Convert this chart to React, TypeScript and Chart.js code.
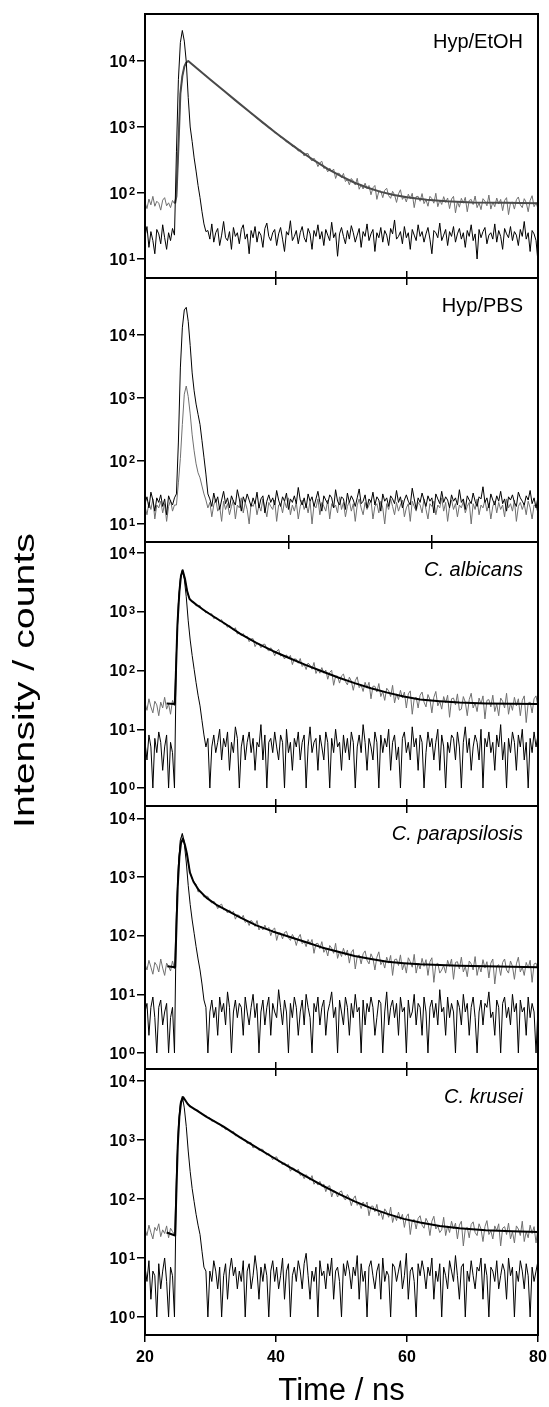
import React, { useEffect, useRef } from "react";
import { Chart, registerables } from "chart.js";

Chart.register(...registerables);

const FONT = "'Liberation Sans', Arial, Helvetica, sans-serif";
Chart.defaults.font.family = FONT;

// ---------- sampling grid (ns) ----------
const TIME_START = 20;
const TIME_STEP = 0.3;
const N_POINTS = 201;
const TIME = Array.from({ length: N_POINTS }, (_, i) => Math.round((TIME_START + TIME_STEP * i) * 100) / 100);

// ---------- tick values ----------
const X_TICKS = [20, 40, 60, 80];
const X_TICKS_INNER = [40, 60];
const Y_DECADES_HIGH = [10, 100, 1000, 10000];
const Y_DECADES_LOW = [1, 10, 100, 1000, 10000];

// ---------- Panel 1: Hyp/EtOH ----------
const ETOH_DATA = [
  72, 58, 81, 66, 89, 63, 75, 70, 55, 78, 85, 64, 71, 60, 77, 69,
  90, 520, 3200, 5900, 8200, 9500, 10000,
  9480, 8870, 8450, 7960, 7440, 7110, 6690, 6250, 5990, 5650, 5270, 5040, 4760, 4430, 4250, 3990, 3740, 3590, 3380, 3140,
  3020, 2860, 2650, 2550, 2410, 2230, 2160, 2030, 1890, 1830, 1720, 1590, 1550, 1460, 1340, 1320, 1235, 1135, 1120, 1050,
  960, 955, 893, 815, 818, 762, 695, 699, 652, 592, 601, 560, 506, 519, 481, 432, 449,
  421, 363, 396, 395, 332, 305, 337, 302, 251, 287, 302, 236, 243, 209, 239, 210, 231, 166, 200, 197,
  170, 198, 149, 160, 133, 166, 152, 132, 167, 114, 133, 115, 141, 116, 130, 94, 120, 130, 80, 106,
  107, 85, 110, 118, 91, 83, 106, 94, 72, 97, 112, 80, 88, 73, 96, 82, 99, 60, 88, 89,
  75, 98, 69, 79, 63, 89, 82, 70, 99, 62, 78, 67, 88, 72, 84, 58, 81, 89, 50, 74,
  61, 83, 70, 86, 52, 77, 80, 67, 90, 60, 71, 56, 82, 75, 64, 93, 57, 73, 62, 84,
  68, 80, 54, 77, 85, 47, 71, 73, 57, 79, 87, 66, 60, 82, 72, 52, 77, 91, 62, 71, 58,
];
const ETOH_IRF = [
  22, 31, 15, 26, 19, 12, 28, 24, 17, 33, 21, 14, 25, 19, 29, 23,
  420, 5200, 19000, 29000, 20000, 9800, 2800, 1000, 600, 340, 215, 130, 85, 52, 34, 26,
  27, 20, 34, 18, 25, 29, 16, 23, 37, 21,
  19, 26, 14, 30, 22, 25, 17, 28, 33, 20,
  24, 12, 27, 21, 31, 18, 26, 23, 15, 29,
  35, 22, 19, 25, 28, 16, 24, 30, 20, 13,
  26, 23, 38, 19, 22, 27, 17, 25, 31, 21,
  18, 29, 24, 14, 27, 22, 33, 20, 26, 16,
  28, 23, 19, 36, 21, 25, 11, 24, 30, 22,
  17, 27, 20, 32, 25, 18, 23, 29, 15, 26,
  22, 34, 19, 24, 28, 13, 25, 21, 30, 18,
  27, 23, 16, 29, 24, 39, 20, 22, 26, 17,
  31, 21, 25, 14, 28, 23, 19, 33, 22, 26,
  18, 24, 30, 20, 12, 27, 25, 21, 35, 19,
  23, 28, 16, 26, 22, 31, 18, 24, 29, 20,
  25, 15, 27, 22, 33, 19, 24, 10, 28, 21,
  26, 30, 17, 23, 25, 20, 34, 18, 27, 22,
  14, 29, 24, 21, 31, 19, 26, 23, 16, 28,
  22, 37, 20, 25, 13, 27, 24, 19, 9,
];
const ETOH_FIT_T = [24.6, 24.8, 25.1, 25.4, 25.7, 26.0, 26.3, 26.6, 28, 30, 32, 34, 36, 38, 40, 42, 44, 46, 48, 50, 52, 54, 56, 58, 60, 63, 66, 70, 75, 80];
const ETOH_FIT = [70, 90, 500, 3200, 5900, 8200, 9500, 10000, 7645, 5215, 3565, 2443, 1682, 1164, 813, 575, 413, 303, 228, 178, 143, 120, 104, 93, 86, 79, 75, 72, 71, 70];

// ---------- Panel 2: Hyp/PBS ----------
const PBS_DATA = [
  19, 14, 22, 17, 25, 12, 20, 18, 23, 15, 21, 11, 19, 24, 16, 20,
  20, 45, 110, 380, 1150, 1550, 1050, 560, 260, 145, 90, 65, 54, 40, 30, 24,
  18, 22, 13, 20, 25, 16, 19, 11, 23, 17,
  21, 14, 19, 24, 12, 20, 18, 26, 15, 22,
  17, 10, 21, 19, 23, 14, 20, 16, 25, 18,
  13, 22, 19, 17, 24, 11, 20, 21, 15, 23,
  18, 26, 14, 20, 16, 22, 12, 19, 24, 17,
  21, 15, 23, 10, 20, 18, 25, 14, 22, 19,
  16, 24, 12, 21, 18, 20, 15, 27, 17, 22,
  13, 19, 23, 16, 21, 11, 20, 25, 18, 14,
  22, 17, 20, 24, 12, 19, 21, 15, 23, 18,
  10, 21, 17, 25, 19, 14, 22, 16, 20, 24,
  13, 18, 21, 11, 23, 19, 16, 22, 20, 15,
  25, 17, 12, 21, 19, 23, 14, 20, 18, 26,
  16, 22, 11, 19, 24, 17, 21, 13, 20, 18,
  23, 15, 19, 22, 10, 21, 17, 25, 14, 20,
  18, 24, 16, 21, 12, 19, 23, 15, 22, 17,
  20, 13, 25, 18, 21, 16, 24, 11, 19, 22,
  17, 21, 14, 23, 18, 12, 20, 19, 15,
];
const PBS_IRF = [
  21, 27, 18, 32, 24, 16, 26, 22, 29, 19, 25, 14, 28, 23, 20, 26,
  30, 200, 3000, 13000, 25000, 27500, 16500, 6800, 2500, 1300, 800, 550, 380, 210, 115, 62, 30,
  25, 19, 31, 22, 27, 17, 24, 33, 21, 26,
  18, 28, 23, 20, 35, 25, 16, 27, 22, 30,
  24, 19, 26, 21, 32, 18, 25, 28, 15, 23,
  29, 22, 26, 20, 34, 24, 19, 27, 23, 31,
  17, 25, 22, 28, 21, 38, 24, 20, 26, 18,
  30, 23, 27, 19, 25, 33, 22, 16, 28, 24,
  21, 29, 26, 18, 35, 23, 20, 27, 25, 17,
  31, 22, 28, 24, 19, 26, 36, 21, 23, 29,
  18, 25, 22, 32, 20, 27, 24, 16, 30, 23,
  26, 19, 28, 25, 21, 34, 22, 27, 18, 24,
  29, 23, 20, 37, 25, 17, 26, 22, 31, 24,
  19, 28, 23, 26, 15, 30, 25, 21, 33, 22,
  27, 24, 18, 29, 23, 26, 20, 35, 22, 25,
  17, 28, 24, 21, 31, 23, 19, 27, 25, 39,
  22, 26, 18, 30, 24, 20, 28, 23, 33, 21,
  25, 16, 27, 24, 29, 22, 19, 32, 26, 23,
  20, 28, 24, 34, 21, 26, 18, 27,
];

// ---------- Panel 3: C. albicans ----------
const ALB_DATA = [
  28, 21, 33, 24, 19, 30, 26, 17, 29, 23, 35, 22, 27, 18, 31, 25,
  210, 1350, 3500, 5100, 4100, 2700, 1950, 1620, 1490,
  1425, 1255, 1288, 1275, 1090, 1054, 955, 1001, 912, 925, 763, 803, 775, 688, 734, 617, 618, 543,
  589, 542, 486, 535, 418, 437, 391, 425, 369, 383, 309, 344, 348, 255, 293, 287, 244, 277,
  281, 233, 214, 244, 219, 178, 212, 229, 176, 184, 157, 185, 162, 181, 126, 158, 156, 133, 160, 117,
  128, 104, 134, 123, 105, 137, 89, 106, 90, 112, 90, 102, 71, 93, 101, 56, 80, 80, 61, 81,
  87, 65, 57, 77, 66, 46, 67, 78, 51, 57, 44, 63, 50, 63, 33, 54, 54, 43, 60, 36,
  44, 31, 50, 45, 36, 56, 28, 40, 32, 46, 34, 43, 23, 40, 45, 18, 33, 35, 23, 38,
  43, 29, 24, 39, 32, 19, 35, 44, 25, 30, 22, 36, 28, 38, 16, 33, 34, 26, 40, 21,
  22, 36, 29, 17, 32, 41, 23, 28, 20, 34, 27, 37, 15, 31, 32, 24, 38, 20, 27, 17,
  34, 30, 23, 41, 18, 28, 21, 35, 25, 33, 17, 31, 37, 13, 28, 29, 19, 33, 37, 24,
];
const ALB_IRF = [
  6, 3, 8, 5, 1, 7, 4, 9, 6, 2, 5, 8, 1, 6, 4,
  1, 200, 1400, 3700, 5000, 3600, 1800, 700, 330, 180, 105, 62, 38, 25, 14, 8, 5, 7, 1,
  5, 8, 4, 6, 10, 3, 7, 5, 9, 2,
  6, 4, 11, 7, 1, 5, 8, 3, 6, 9,
  4, 7, 2, 6, 5, 12, 3, 8, 1, 6,
  7, 4, 9, 5, 3, 8, 6, 1, 10, 4,
  6, 2, 7, 5, 9, 3, 6, 8, 1, 5,
  11, 4, 6, 7, 2, 8, 5, 3, 9, 6,
  1, 7, 4, 10, 5, 6, 2, 8, 4, 7,
  3, 9, 6, 1, 5, 8, 4, 12, 6, 2,
  7, 5, 3, 9, 6, 1, 8, 4, 7, 5,
  10, 2, 6, 8, 3, 5, 1, 7, 9, 4,
  6, 3, 11, 5, 7, 2, 8, 6, 1, 4,
  9, 5, 7, 3, 6, 10, 2, 8, 5, 1,
  6, 4, 8, 7, 3, 9, 5, 1, 6, 11,
  4, 7, 2, 5, 8, 6, 3, 10, 1, 7,
  5, 9, 4, 6, 2, 8, 5, 12, 3, 6,
  1, 7, 4, 9, 6, 2, 8, 5, 10, 3,
  6, 1, 7, 4, 9, 5, 8,
];
const ALB_FIT_T = [23.3, 24.55, 24.7, 24.95, 25.25, 25.5, 25.75, 26.1, 26.45, 26.8, 27.2, 28, 29.4, 31, 32, 34.5, 37, 39.5, 42, 44.5, 47, 49.5, 52, 54.5, 57, 59.5, 62, 65, 68, 72, 76, 80];
const ALB_FIT = [27.5, 27, 80, 600, 2200, 4150, 5100, 3650, 2200, 1650, 1500, 1280, 990, 760, 650, 425, 295, 215, 163, 125, 97, 76, 61, 50, 42, 36, 32, 30, 28.5, 27.5, 27.1, 27];

// ---------- Panel 4: C. parapsilosis ----------
const PARA_DATA = [
  33, 26, 38, 29, 22, 35, 31, 24, 40, 28, 21, 34, 30, 25, 37, 27,
  250, 1600, 4300, 5500, 4000, 2750, 1800, 1180, 930,
  817, 752, 557, 573, 536, 453, 472, 465, 392, 358, 388, 347, 288, 328, 345, 275, 280, 244,
  275, 241, 261, 191, 226, 221, 192, 222, 168, 179, 149, 183, 167, 144, 181, 125, 144, 125,
  151, 125, 138, 100, 126, 135, 83, 111, 111, 88, 113, 118, 92, 83, 105, 91, 68, 92, 105, 73,
  80, 65, 86, 71, 86, 50, 73, 74, 60, 79, 52, 60, 45, 68, 61, 50, 74, 41, 54, 44,
  61, 46, 57, 34, 52, 58, 27, 44, 47, 33, 49, 55, 38, 33, 49, 41, 26, 43, 53, 32,
  37, 28, 43, 34, 46, 21, 39, 40, 31, 47, 26, 34, 23, 42, 36, 29, 48, 23, 34, 27,
  41, 30, 39, 21, 36, 42, 16, 32, 34, 23,
  26, 31, 23, 38, 30, 40, 18, 35, 36, 27, 43, 24, 30, 20, 37, 33, 26, 44, 21, 31,
  24, 39, 28, 36, 19, 34, 40, 15, 30, 32, 21, 35, 40, 26, 23, 37, 30, 18, 33, 43,
  24, 29, 21, 35, 28, 38, 16, 33, 34, 25,
];
const PARA_IRF = [
  5, 7, 2, 6, 9, 4, 1, 6, 8, 3, 5, 7, 1, 4, 6,
  1, 250, 1600, 4200, 5500, 3700, 1800, 720, 340, 185, 110, 65, 40, 26, 15, 8, 6, 1, 5,
  8, 4, 6, 2, 9, 5, 7, 3, 11, 6,
  1, 5, 8, 4, 7, 6, 2, 9, 5, 3,
  6, 10, 4, 7, 1, 5, 8, 3, 6, 9,
  2, 7, 5, 4, 12, 6, 3, 8, 5, 1,
  7, 4, 9, 6, 2, 5, 8, 3, 10, 6,
  4, 1, 7, 5, 9, 3, 6, 8, 2, 5,
  7, 11, 4, 6, 1, 8, 5, 3, 9, 6,
  2, 7, 4, 10, 5, 6, 1, 8, 3, 7,
  5, 9, 6, 2, 4, 8, 7, 1, 5, 11,
  3, 6, 8, 4, 7, 2, 9, 5, 6, 1,
  8, 4, 5, 10, 3, 7, 6, 2, 9, 5,
  1, 6, 8, 4, 7, 3, 12, 5, 6, 2,
  9, 4, 7, 5, 1, 8, 6, 3, 10, 5,
  7, 2, 6, 9, 4, 1, 5, 8, 3, 7,
  6, 11, 4, 5, 2, 8, 6, 1, 7, 9,
  4, 6, 3, 10, 5, 7, 1, 8, 5, 6,
  2, 9, 4, 7, 5, 1, 6,
];
const PARA_FIT_T = [23.4, 24.6, 24.75, 25.0, 25.25, 25.5, 25.8, 26.1, 26.4, 26.85, 27.4, 28.2, 29.4, 31, 32, 34.5, 37, 39.5, 42, 44.5, 47, 49.5, 52, 54.5, 57, 59.5, 62, 65, 68, 72, 76, 80];
const PARA_FIT = [30, 29, 90, 700, 2200, 3800, 4500, 3500, 2500, 1200, 830, 600, 440, 330, 290, 205, 150, 118, 96, 78, 63, 53, 45, 40, 36, 34, 32.5, 31.5, 30.7, 30, 29.5, 29];

// ---------- Panel 5: C. krusei ----------
const KRU_DATA = [
  31, 24, 36, 27, 21, 33, 29, 38, 23, 30, 26, 35, 22, 32, 28, 25,
  220, 1450, 3800, 5200, 5000, 4450, 3950,
  3796, 3550, 3249, 3256, 3198, 2869, 2789, 2578, 2587, 2397, 2378, 2080, 2118, 2031, 1870, 1897, 1671, 1645, 1496,
  1546, 1446, 1331, 1391, 1178, 1189, 1091, 1125, 1012, 1014, 872, 913, 902, 732, 777, 749, 663, 699, 691,
  600, 557, 593, 540, 463, 504, 518, 426, 428, 377, 411, 366, 387, 296, 337, 327, 286, 320, 251, 261,
  221, 259, 237, 208, 249, 178, 198, 172, 199, 166, 179, 133, 162, 168, 108, 137, 134, 108, 131, 137,
  106, 96, 119, 103, 77, 101, 113, 78, 86, 69, 89, 75, 89, 52, 75, 76, 61, 81, 52, 61,
  45, 68, 60, 49, 73, 40, 53, 43, 60, 45, 55, 33, 50, 56, 25, 43, 45, 31, 47, 52,
  36, 32, 47, 40, 24, 42, 51, 31, 35, 27,
  30, 49, 24, 35, 27, 42, 31, 39, 21, 36, 42, 16, 31, 33, 22, 37, 41, 27, 24, 38,
  31, 19, 34, 43, 25, 29, 21, 35, 29, 38, 16, 32, 34, 25, 39, 21, 28, 18, 35, 31,
  24, 42, 19, 28, 22, 36, 26, 34, 18, 32,
];
const KRU_IRF = [
  7, 4, 9, 2, 6, 5, 1, 8, 3, 6, 10, 4, 1, 7, 5,
  1, 260, 1700, 4300, 5500, 3500, 1700, 650, 290, 150, 90, 55, 36, 25, 13, 7, 6, 1, 6,
  4, 9, 6, 3, 7, 1, 5, 8, 2, 6,
  10, 5, 7, 3, 6, 4, 9, 1, 6, 8,
  3, 5, 11, 6, 2, 7, 4, 8, 5, 1,
  6, 9, 4, 7, 3, 5, 10, 2, 6, 8,
  1, 5, 7, 4, 9, 6, 3, 8, 12, 5,
  2, 6, 4, 7, 1, 9, 5, 6, 3, 8,
  5, 10, 2, 6, 7, 4, 1, 8, 5, 9,
  6, 3, 7, 5, 11, 2, 8, 4, 6, 1,
  7, 9, 5, 3, 6, 8, 2, 10, 4, 6,
  5, 1, 8, 7, 4, 6, 9, 3, 5, 12,
  2, 6, 7, 4, 1, 8, 5, 9, 6, 3,
  7, 5, 10, 2, 6, 4, 8, 1, 7, 5,
  3, 9, 6, 4, 11, 5, 2, 7, 8, 1,
  6, 4, 9, 5, 3, 7, 6, 10, 2, 8,
  5, 1, 7, 6, 4, 9, 3, 5, 8, 6,
  2, 10, 5, 7, 1, 6, 4, 9, 6, 3,
  8, 5, 1, 7, 4, 6, 9,
];
const KRU_FIT_T = [23.3, 24.6, 24.75, 25.0, 25.25, 25.5, 25.85, 26.1, 26.5, 26.9, 28, 29.4, 32, 34.5, 37, 39.5, 42, 44.5, 47, 49.5, 52, 54.5, 57, 59.5, 62, 65, 68, 72, 76, 80];
const KRU_FIT = [27, 24, 90, 800, 2500, 4300, 5300, 4800, 4100, 3700, 3110, 2460, 1680, 1110, 750, 510, 350, 243, 171, 123, 91, 70, 56, 46, 40, 35, 32, 29.6, 28.4, 27.7];

// ---------- layout / style (not data) ----------
const W = 549;
const H = 1407;
const PLOT_LEFT = 145;
const PLOT_RIGHT = 538;
const Y_AXIS_W = 60;
const Y_LABEL_RIGHT = 135;
const X_TICK_LEN = 7;
const SKEW_MAX = 74.8;
const DATA_COLOR = "#707070";

type Panel = {
  label: string;
  italic: boolean;
  top: number;
  bottom: number;
  yMinExp: number;
  yMaxExp: number;
  decades: number[];
  data: number[];
  irf: number[];
  fitT?: number[];
  fit?: number[];
  fitColor?: string;
  irfOnTop: boolean;
  topAxis: "none" | "normal" | "skew";
  bottomAxis: "normal" | "skew" | "labels";
  yTitle: boolean;
};

const PANELS: Panel[] = [
  { label: "Hyp/EtOH", italic: false, top: 14, bottom: 278, yMinExp: 0.712, yMaxExp: 4.712, decades: Y_DECADES_HIGH,
    data: ETOH_DATA, irf: ETOH_IRF, fitT: ETOH_FIT_T, fit: ETOH_FIT, fitColor: "#4a4a4a", irfOnTop: true,
    topAxis: "none", bottomAxis: "normal", yTitle: false },
  { label: "Hyp/PBS", italic: false, top: 278, bottom: 542, yMinExp: 0.714, yMaxExp: 4.905, decades: Y_DECADES_HIGH,
    data: PBS_DATA, irf: PBS_IRF, irfOnTop: true,
    topAxis: "normal", bottomAxis: "skew", yTitle: false },
  { label: "C. albicans", italic: true, top: 542, bottom: 806, yMinExp: -0.306, yMaxExp: 4.187, decades: Y_DECADES_LOW,
    data: ALB_DATA, irf: ALB_IRF, fitT: ALB_FIT_T, fit: ALB_FIT, fitColor: "#000000", irfOnTop: false,
    topAxis: "skew", bottomAxis: "normal", yTitle: true },
  { label: "C. parapsilosis", italic: true, top: 806, bottom: 1069, yMinExp: -0.273, yMaxExp: 4.21, decades: Y_DECADES_LOW,
    data: PARA_DATA, irf: PARA_IRF, fitT: PARA_FIT_T, fit: PARA_FIT, fitColor: "#000000", irfOnTop: false,
    topAxis: "normal", bottomAxis: "normal", yTitle: false },
  { label: "C. krusei", italic: true, top: 1069, bottom: 1335, yMinExp: -0.305, yMaxExp: 4.203, decades: Y_DECADES_LOW,
    data: KRU_DATA, irf: KRU_IRF, fitT: KRU_FIT_T, fit: KRU_FIT, fitColor: "#000000", irfOnTop: false,
    topAxis: "normal", bottomAxis: "labels", yTitle: false },
];

const tickGrid = {
  display: true,
  drawOnChartArea: false,
  drawTicks: true,
  tickLength: X_TICK_LEN,
  color: "#000",
  lineWidth: 1.5,
};

function xDecorAxis(position: "top" | "bottom", kind: "normal" | "skew" | "labels") {
  const withLabels = kind === "labels";
  const height = withLabels ? 72 : X_TICK_LEN;
  return {
    type: "linear",
    position,
    min: 20,
    max: kind === "skew" ? SKEW_MAX : 80,
    afterBuildTicks: (s: any) => {
      s.ticks = (withLabels ? X_TICKS : X_TICKS_INNER).map((v) => ({ value: v }));
    },
    afterFit: (s: any) => {
      s.height = height;
      s.paddingLeft = 0;
      s.paddingRight = 0;
    },
    grid: tickGrid,
    border: { display: false },
    ticks: {
      display: withLabels,
      autoSkip: false,
      maxRotation: 0,
      padding: 6,
      color: "#000",
      font: { size: 16, weight: "bold" },
      callback: (v: any) => String(v),
    },
    title: withLabels
      ? { display: true, text: "Time / ns", color: "#000", font: { size: 31, lineHeight: 1 }, padding: 0 }
      : { display: false },
  };
}

function makeConfig(p: Panel): any {
  const line = { pointRadius: 0, tension: 0, fill: false, borderJoinStyle: "round", xAxisID: "x", yAxisID: "y" };
  const datasets: any[] = [
    { ...line, label: "data", data: TIME.map((t, i) => ({ x: t, y: p.data[i] })), borderColor: DATA_COLOR, borderWidth: 1, order: 3 },
    { ...line, label: "IRF", data: TIME.map((t, i) => ({ x: t, y: p.irf[i] })), borderColor: "#000", borderWidth: 1, order: p.irfOnTop ? 1 : 2 },
  ];
  if (p.fit && p.fitT) {
    datasets.push({
      ...line,
      label: "fit",
      data: p.fitT.map((t, i) => ({ x: t, y: p.fit![i] })),
      borderColor: p.fitColor,
      borderWidth: 2,
      order: p.irfOnTop ? 2 : 1,
    });
  }

  const scales: any = {
    x: { type: "linear", min: 20, max: 80, display: false },
    y: {
      type: "logarithmic",
      position: "left",
      min: Math.pow(10, p.yMinExp),
      max: Math.pow(10, p.yMaxExp),
      afterBuildTicks: (s: any) => {
        s.ticks = p.decades.map((v) => ({ value: v }));
      },
      afterFit: (s: any) => {
        s.width = Y_AXIS_W;
        s.paddingTop = 0;
        s.paddingBottom = 0;
      },
      grid: { ...tickGrid, tickLength: 8 },
      border: { display: false },
      ticks: { display: false, autoSkip: false },
    },
    xb: xDecorAxis("bottom", p.bottomAxis),
  };
  if (p.topAxis !== "none") scales.xt = xDecorAxis("top", p.topAxis);

  const topH = p.topAxis !== "none" ? X_TICK_LEN : 0;
  const bottomH = p.bottomAxis === "labels" ? 72 : X_TICK_LEN;

  const decor = {
    id: "decor",
    afterDraw(chart: any) {
      const { ctx, chartArea: a } = chart;
      const ys = chart.scales.y;
      ctx.save();
      // frame
      ctx.strokeStyle = "#000";
      ctx.lineWidth = 2;
      ctx.strokeRect(a.left, a.top, a.right - a.left, a.bottom - a.top);
      ctx.fillStyle = "#000";
      // y tick labels as 10 with raised exponent
      ctx.textAlign = "left";
      ctx.textBaseline = "alphabetic";
      for (const v of p.decades) {
        const py = ys.getPixelForValue(v);
        const exp = String(Math.round(Math.log10(v)));
        ctx.font = `bold 16px ${FONT}`;
        const wBase = ctx.measureText("10").width;
        ctx.font = `bold 11px ${FONT}`;
        const wExp = ctx.measureText(exp).width;
        const x0 = Y_LABEL_RIGHT - wExp - 1.5 - wBase;
        ctx.font = `bold 16px ${FONT}`;
        ctx.fillText("10", x0, py + 5.7);
        ctx.font = `bold 11px ${FONT}`;
        ctx.fillText(exp, x0 + wBase + 1.5, py + 2.4);
      }
      // panel label
      ctx.font = `${p.italic ? "italic " : ""}20px ${FONT}`;
      ctx.textAlign = "right";
      ctx.fillText(p.label, a.right - 15, a.top + 34);
      if (p.yTitle) {
        ctx.save();
        ctx.translate(33.5, 680.5);
        ctx.rotate(-Math.PI / 2);
        ctx.scale(1.31, 1);
        ctx.font = `30px ${FONT}`;
        ctx.textAlign = "center";
        ctx.textBaseline = "alphabetic";
        ctx.fillText("Intensity / counts", 0, 0);
        ctx.restore();
      }
      ctx.restore();
    },
  };

  return {
    type: "line",
    data: { datasets },
    options: {
      responsive: false,
      animation: false,
      events: [],
      devicePixelRatio: 1,
      layout: {
        padding: {
          left: PLOT_LEFT - Y_AXIS_W,
          right: W - PLOT_RIGHT,
          top: p.top - topH,
          bottom: H - p.bottom - bottomH,
        },
      },
      plugins: { legend: { display: false }, tooltip: { enabled: false }, title: { display: false } },
      scales,
    },
    plugins: [decor],
  };
}

function PanelChart({ panel }: { panel: Panel }) {
  const ref = useRef<HTMLCanvasElement | null>(null);
  useEffect(() => {
    if (!ref.current) return;
    const chart = new Chart(ref.current, makeConfig(panel));
    return () => chart.destroy();
  }, [panel]);
  return <canvas ref={ref} width={W} height={H} style={{ position: "absolute", left: 0, top: 0 }} />;
}

export default function App() {
  return (
    <div style={{ position: "absolute", left: 0, top: 0, width: W, height: H, background: "#fff", overflow: "hidden" }}>
      {PANELS.map((p, i) => (
        <PanelChart key={i} panel={p} />
      ))}
    </div>
  );
}
